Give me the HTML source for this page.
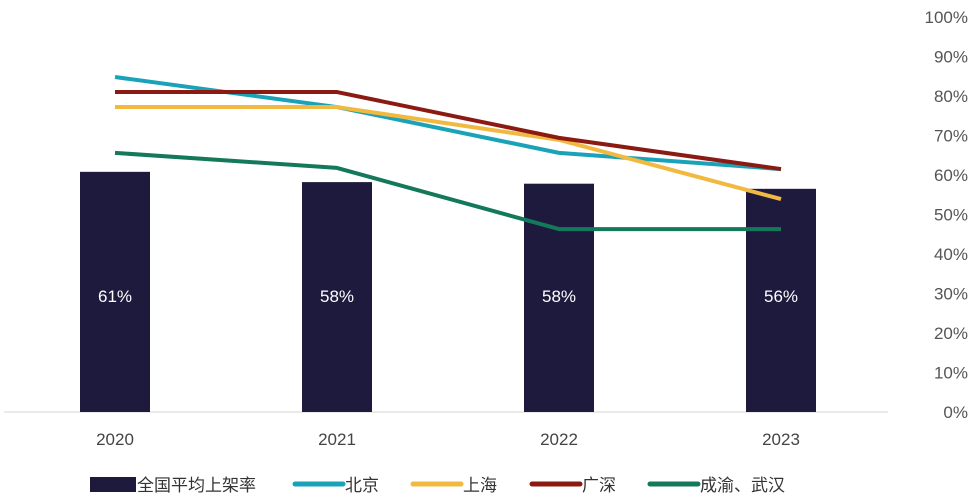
<!DOCTYPE html>
<html><head><meta charset="utf-8"><style>
body{margin:0;background:#fff;font-family:"Liberation Sans","Noto Sans CJK SC",sans-serif;}
svg text{font-family:"Liberation Sans","Noto Sans CJK SC",sans-serif;}
</style></head><body>
<svg id="chart" width="969" height="497" viewBox="0 0 969 497" xmlns="http://www.w3.org/2000/svg"></svg>
<script>
const categories=["2020","2021","2022","2023"];
const avgValues=[61,58,58,56];
const avgBarHeights=[60.8,58.2,57.8,56.5];
const beijing=[84.8,77.2,65.6,61.5];
const shanghai=[77.2,77.2,68.9,53.9];
const guangshen=[81,81,69.4,61.5];
const chengyu=[65.6,61.8,46.3,46.3];
const yTicks=[0,10,20,30,40,50,60,70,80,90,100];
const NS="http://www.w3.org/2000/svg";
const svg=document.getElementById('chart');
const y=v=>412-v*3.95;
const x=i=>115+i*222;
function mk(t,a,p){const e=document.createElementNS(NS,t);for(const k in a)e.setAttribute(k,a[k]);(p||svg).appendChild(e);return e;}
let base=mk('line',{x1:4,x2:888,y1:412,y2:412,stroke:'#e3e3e3','stroke-width':1.5});


yTicks.forEach(v=>{const t=mk('text',{x:968,y:y(v)+6,'text-anchor':'end','font-size':17,fill:'#555'});t.textContent=v+'%';

});
categories.forEach((c,i)=>{
const r=mk('rect',{x:x(i)-35,y:y(avgBarHeights[i]),width:70,height:412-y(avgBarHeights[i]),fill:'#1e1a3e'});


const l=mk('text',{x:x(i),y:302,'text-anchor':'middle','font-size':17,fill:'#fff'});l.textContent=avgValues[i]+'%';


const t=mk('text',{x:x(i),y:445,'text-anchor':'middle','font-size':17,fill:'#444'});t.textContent=c;


});
const series=[[beijing,'#1aa2b8','line-beijing'],[shanghai,'#f2b941','line-shanghai'],[guangshen,'#8b1a12','line-guangshen'],[chengyu,'#13795a','line-chengyu-wuhan']];
series.forEach(([d,col,n])=>{
const p=mk('polyline',{points:d.map((v,i)=>x(i)+','+y(v)).join(' '),fill:'none',stroke:col,'stroke-width':4,'stroke-linejoin':'round'});


});
const legend=[['全国平均上架率','#1e1a3e',90,true],['北京','#1aa2b8',295],['上海','#f2b941',413],['广深','#8b1a12',532],['成渝、武汉','#13795a',650]];
legend.forEach(([txt,col,lx,box])=>{
const g=mk('g',{});


if(box)mk('rect',{x:lx,y:477,width:46,height:15,fill:col},g);
else mk('line',{x1:lx,x2:lx+48,y1:484,y2:484,stroke:col,'stroke-width':5,'stroke-linecap':'round'},g);
const t=mk('text',{x:lx+(box?47:50),y:491,'font-size':17,fill:'#333'},g);t.textContent=txt;
});
</script>
</body></html>
